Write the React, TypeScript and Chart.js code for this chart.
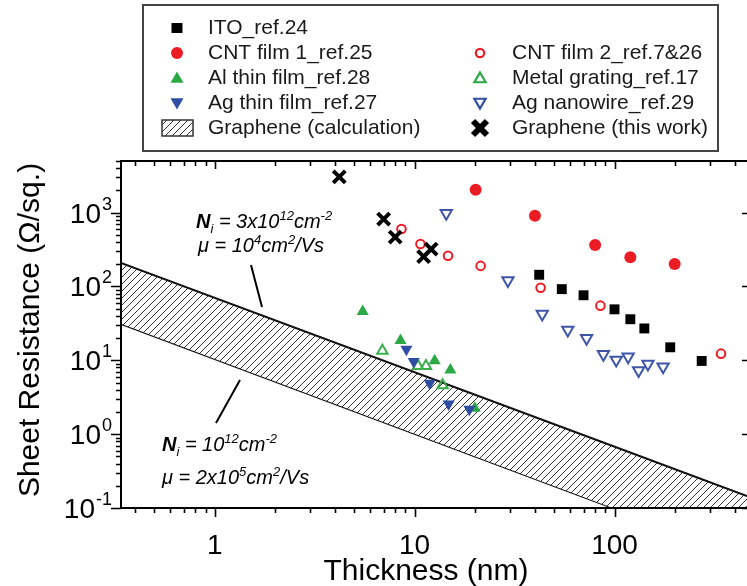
import React, { useEffect, useRef } from 'react';
import { Chart, registerables } from 'chart.js';

Chart.register(...registerables);

// ---- data (thickness nm, sheet resistance ohm/sq) ----
const itoX = [42, 54.5, 70, 100, 120, 141, 190, 273];
const itoY = [144, 92, 76, 49, 36, 27, 15, 9.8];
const cnt1X = [20.2, 40, 80, 120, 200];
const cnt1Y = [2040, 905, 363, 249, 202];
const cnt2X = [8.6, 10.7, 14.7, 21.4, 42.7, 85, 341];
const cnt2Y = [600, 375, 260, 190, 96, 55, 12.3];
const alX = [5.5, 8.5, 12.6, 15.1, 20];
const alY = [45.7, 18.5, 9.9, 7.4, 2.24];
const gratingX = [6.9, 10.4, 11.4, 13.8];
const gratingY = [13.5, 8.4, 8.4, 4.6];
const agFilmX = [9.1, 9.9, 11.9, 14.8, 18.8];
const agFilmY = [14.1, 9.6, 4.9, 2.57, 2.17];
const agWireX = [14.4, 29.3, 43.5, 58.4, 72.5, 88, 102, 117, 132, 147, 175];
const agWireY = [984, 120, 42.5, 25.8, 19.9, 12.1, 10.1, 11.2, 7.3, 8.9, 8.2];
const grapheneX = [4.2, 7.0, 8.0, 12.1, 11.1];
const grapheneY = [3050, 817, 466, 320, 254];
const calcX = [0.34, 98, 460];
const calcUpperY = [208, 0.69, 0.145];
const calcLowerY = [31.2, 0.1, 0.1];

// ---- axes ----
const xMin = 0.34;
const xMax = 460;
const yMin = 0.1;
const yMax = 5000;
const xMajorTicks = [1, 10, 100];
const xTickLabels = ['1', '10', '100'];
const yMajorTicks = [0.1, 1, 10, 100, 1000];
const yTickExponents = ['-1', '0', '1', '2', '3'];
const xTitle = 'Thickness (nm)';
const yTitle = 'Sheet Resistance (\u03A9/sq.)';

const legendLabels = {
  ito: 'ITO_ref.24',
  cnt1: 'CNT film 1_ref.25',
  cnt2: 'CNT film 2_ref.7&26',
  al: 'Al thin film_ref.28',
  grating: 'Metal grating_ref.17',
  agFilm: 'Ag thin film_ref.27',
  agWire: 'Ag nanowire_ref.29',
  calc: 'Graphene (calculation)',
  graphene: 'Graphene (this work)',
};

const RED = '#ec1c24';
const GREEN = '#2ca844';
const BLUE = '#2e4da3';
const FONT = '"Liberation Sans", Arial, sans-serif';

const zip = (xs: number[], ys: number[]) => xs.map((x, i) => ({ x, y: ys[i] }));

function makeHatch(): CanvasPattern | string {
  const c = document.createElement('canvas');
  const s = 7;
  c.width = s;
  c.height = s;
  const g = c.getContext('2d');
  if (!g) return '#ccc';
  g.fillStyle = '#fff';
  g.fillRect(0, 0, s, s);
  g.strokeStyle = '#333';
  g.lineWidth = 1;
  g.beginPath();
  g.moveTo(-1, s + 1);
  g.lineTo(s + 1, -1);
  g.moveTo(-1, 1);
  g.lineTo(1, -1);
  g.moveTo(s - 1, s + 1);
  g.lineTo(s + 1, s - 1);
  g.stroke();
  const p = g.createPattern(c, 'repeat');
  return p || '#ccc';
}

type Run = { t: string; f: string; dy?: number };
function drawRuns(ctx: CanvasRenderingContext2D, runs: Run[], x: number, y: number) {
  let cx = x;
  for (const r of runs) {
    ctx.font = r.f;
    ctx.fillText(r.t, cx, y + (r.dy || 0));
    cx += ctx.measureText(r.t).width;
  }
}

function tri(ctx: CanvasRenderingContext2D, x: number, y: number, r: number, down: boolean) {
  const d = down ? -1 : 1;
  ctx.beginPath();
  ctx.moveTo(x, y - d * r);
  ctx.lineTo(x + r * 0.866, y + d * r * 0.5);
  ctx.lineTo(x - r * 0.866, y + d * r * 0.5);
  ctx.closePath();
}

export default function App() {
  const ref = useRef<HTMLCanvasElement>(null);

  useEffect(() => {
    if (!ref.current) return;
    const hatch = makeHatch();

    const decor = {
      id: 'decor',
      beforeDraw(chart: any) {
        const ctx = chart.ctx;
        ctx.save();
        ctx.fillStyle = '#fff';
        ctx.fillRect(0, 0, chart.width, chart.height);
        ctx.restore();
      },
      afterDraw(chart: any) {
        const ctx: CanvasRenderingContext2D = chart.ctx;
        const xs = chart.scales.x;
        const ys = chart.scales.y;
        const a = chart.chartArea;
        ctx.save();
        ctx.strokeStyle = '#000';
        ctx.fillStyle = '#000';

        // axis lines
        ctx.lineWidth = 2;
        ctx.beginPath();
        ctx.moveTo(a.left, a.top);
        ctx.lineTo(a.right, a.top);
        ctx.moveTo(a.left, a.top - 1);
        ctx.lineTo(a.left, a.bottom + 1);
        ctx.moveTo(a.left, a.bottom);
        ctx.lineTo(a.right, a.bottom);
        ctx.stroke();

        // x ticks
        ctx.lineWidth = 1.6;
        ctx.beginPath();
        for (const d of [0.1, 1, 10, 100]) {
          for (let m = 1; m <= 9; m++) {
            const v = d * m;
            if (v < xMin || v > xMax) continue;
            const px = Math.round(xs.getPixelForValue(v)) + 0.5;
            const major = m === 1;
            ctx.moveTo(px, a.bottom);
            ctx.lineTo(px, a.bottom + (major ? 9 : 5));
            ctx.moveTo(px, a.top);
            ctx.lineTo(px, a.top + (major ? 8 : 5));
          }
        }
        // y ticks
        for (const d of [0.1, 1, 10, 100, 1000]) {
          for (let m = 1; m <= 9; m++) {
            const v = d * m;
            if (v < yMin || v > yMax) continue;
            const py = Math.round(ys.getPixelForValue(v)) + 0.5;
            const major = m === 1;
            ctx.moveTo(a.left, py);
            ctx.lineTo(a.left - (major ? 10 : 5), py);
            if (major) {
              ctx.moveTo(a.right - 5, py);
              ctx.lineTo(a.right, py);
            }
          }
        }
        ctx.stroke();

        // x tick labels
        ctx.font = `28px ${FONT}`;
        ctx.textAlign = 'center';
        ctx.textBaseline = 'alphabetic';
        xMajorTicks.forEach((v, i) => {
          ctx.fillText(xTickLabels[i], xs.getPixelForValue(v), 554);
        });

        // y tick labels
        ctx.textAlign = 'left';
        yMajorTicks.forEach((v, i) => {
          const py = ys.getPixelForValue(v);
          ctx.font = `28px ${FONT}`;
          const w1 = ctx.measureText('10').width;
          ctx.font = `18px ${FONT}`;
          const w2 = ctx.measureText(yTickExponents[i]).width;
          const x0 = 112 - w2 - w1 - 1;
          ctx.font = `28px ${FONT}`;
          ctx.fillText('10', x0, py + 10);
          ctx.font = `18px ${FONT}`;
          ctx.fillText(yTickExponents[i], x0 + w1 + 1, py - 3);
        });

        // titles
        ctx.font = `30px ${FONT}`;
        ctx.textAlign = 'center';
        ctx.fillText(xTitle, 426, 580);
        ctx.save();
        ctx.translate(39, 330);
        ctx.rotate(-Math.PI / 2);
        ctx.fillText(yTitle, 0, 0);
        ctx.restore();

        // annotations
        ctx.textAlign = 'left';
        const it = `italic 20px ${FONT}`;
        const bi = `bold italic 20px ${FONT}`;
        const sm = `italic 13px ${FONT}`;
        drawRuns(ctx, [
          { t: 'N', f: bi }, { t: 'i', f: sm, dy: 5 }, { t: ' = 3x10', f: it },
          { t: '12', f: sm, dy: -8 }, { t: 'cm', f: it }, { t: '-2', f: sm, dy: -8 },
        ], 196, 228);
        drawRuns(ctx, [
          { t: '\u03BC = 10', f: it }, { t: '4', f: sm, dy: -8 }, { t: 'cm', f: it },
          { t: '2', f: sm, dy: -8 }, { t: '/Vs', f: it },
        ], 198, 252);
        drawRuns(ctx, [
          { t: 'N', f: bi }, { t: 'i', f: sm, dy: 5 }, { t: ' = 10', f: it },
          { t: '12', f: sm, dy: -8 }, { t: 'cm', f: it }, { t: '-2', f: sm, dy: -8 },
        ], 162, 451);
        drawRuns(ctx, [
          { t: '\u03BC = 2x10', f: it }, { t: '5', f: sm, dy: -8 }, { t: 'cm', f: it },
          { t: '2', f: sm, dy: -8 }, { t: '/Vs', f: it },
        ], 162, 484);

        ctx.lineWidth = 2;
        ctx.beginPath();
        ctx.moveTo(251, 265);
        ctx.lineTo(262, 307);
        ctx.moveTo(216, 423);
        ctx.lineTo(240, 380);
        ctx.stroke();

        // legend
        ctx.lineWidth = 2;
        ctx.strokeStyle = '#444';
        ctx.strokeRect(143, 5, 575, 146);
        ctx.font = `21px ${FONT}`;
        ctx.textBaseline = 'middle';
        ctx.fillStyle = '#1a1a1a';
        const c1m = 177, c1t = 208, c2m = 480, c2t = 512;
        const rows = [28, 53, 78, 103, 128];
        ctx.fillText(legendLabels.ito, c1t, rows[0]);
        ctx.fillText(legendLabels.cnt1, c1t, rows[1]);
        ctx.fillText(legendLabels.al, c1t, rows[2]);
        ctx.fillText(legendLabels.agFilm, c1t, rows[3]);
        ctx.fillText(legendLabels.calc, c1t, rows[4]);
        ctx.fillText(legendLabels.cnt2, c2t, rows[1]);
        ctx.fillText(legendLabels.grating, c2t, rows[2]);
        ctx.fillText(legendLabels.agWire, c2t, rows[3]);
        ctx.fillText(legendLabels.graphene, c2t, rows[4]);

        // legend markers
        ctx.fillStyle = '#000';
        ctx.fillRect(c1m - 5.5, rows[0] - 5, 11, 10);
        ctx.fillStyle = RED;
        ctx.beginPath();
        ctx.arc(c1m, rows[1], 6, 0, Math.PI * 2);
        ctx.fill();
        ctx.fillStyle = GREEN;
        tri(ctx, c1m, rows[2] + 1, 7.5, false);
        ctx.fill();
        ctx.fillStyle = BLUE;
        tri(ctx, c1m, rows[3] - 1, 7.5, true);
        ctx.fill();
        ctx.fillStyle = hatch as any;
        ctx.fillRect(162, rows[4] - 8, 31, 16);
        ctx.strokeStyle = '#333';
        ctx.lineWidth = 1.5;
        ctx.strokeRect(162, rows[4] - 8, 31, 16);

        ctx.lineWidth = 2.2;
        ctx.strokeStyle = RED;
        ctx.beginPath();
        ctx.arc(c2m, rows[1], 4.2, 0, Math.PI * 2);
        ctx.stroke();
        ctx.strokeStyle = GREEN;
        tri(ctx, c2m, rows[2] + 1, 6.5, false);
        ctx.stroke();
        ctx.strokeStyle = BLUE;
        tri(ctx, c2m, rows[3] - 1, 6.5, true);
        ctx.stroke();
        ctx.strokeStyle = '#000';
        ctx.lineWidth = 6;
        ctx.beginPath();
        ctx.moveTo(c2m - 7, rows[4] - 7);
        ctx.lineTo(c2m + 7, rows[4] + 7);
        ctx.moveTo(c2m + 7, rows[4] - 7);
        ctx.lineTo(c2m - 7, rows[4] + 7);
        ctx.stroke();

        ctx.restore();
      },
    };

    const chart = new Chart(ref.current, {
      type: 'scatter',
      data: {
        datasets: [
          {
            label: legendLabels.graphene, data: zip(grapheneX, grapheneY),
            pointStyle: 'crossRot', pointRadius: 8.5, borderColor: '#000', borderWidth: 4,
            backgroundColor: '#000',
          },
          {
            label: legendLabels.ito, data: zip(itoX, itoY),
            pointStyle: 'rect', pointRadius: 7, backgroundColor: '#000', borderColor: '#000', borderWidth: 0,
          },
          {
            label: legendLabels.cnt1, data: zip(cnt1X, cnt1Y),
            pointStyle: 'circle', pointRadius: 6, backgroundColor: RED, borderColor: RED, borderWidth: 0,
          },
          {
            label: legendLabels.cnt2, data: zip(cnt2X, cnt2Y),
            pointStyle: 'circle', pointRadius: 4.3, backgroundColor: '#fff', borderColor: RED, borderWidth: 2,
          },
          {
            label: legendLabels.agFilm, data: zip(agFilmX, agFilmY),
            pointStyle: 'triangle', rotation: 180, pointRadius: 7, backgroundColor: BLUE, borderColor: BLUE, borderWidth: 0,
          },
          {
            label: legendLabels.al, data: zip(alX, alY),
            pointStyle: 'triangle', pointRadius: 7, backgroundColor: GREEN, borderColor: GREEN, borderWidth: 0,
          },
          {
            label: legendLabels.grating, data: zip(gratingX, gratingY),
            pointStyle: 'triangle', pointRadius: 6, backgroundColor: 'rgba(255,255,255,0)', borderColor: '#3aae4c', borderWidth: 2,
          },
          {
            label: legendLabels.agWire, data: zip(agWireX, agWireY),
            pointStyle: 'triangle', rotation: 180, pointRadius: 6.5, backgroundColor: '#fff', borderColor: '#3f56a8', borderWidth: 2,
          },
          {
            type: 'line', label: 'upper', data: zip(calcX, calcUpperY),
            showLine: true, pointRadius: 0, borderColor: '#111', borderWidth: 2,
            backgroundColor: hatch as any, fill: '+1', tension: 0,
          } as any,
          {
            type: 'line', label: 'lower', data: zip(calcX, calcLowerY),
            showLine: true, pointRadius: 0, borderColor: '#111', borderWidth: 2, fill: false, tension: 0,
          } as any,
        ],
      },
      options: {
        animation: false,
        responsive: false,
        devicePixelRatio: 1,
        events: [],
        layout: { autoPadding: false, padding: { left: 121, top: 161, right: 0, bottom: 78 } },
        plugins: { legend: { display: false }, tooltip: { enabled: false } },
        scales: {
          x: { type: 'logarithmic', bounds: 'data', min: xMin, max: xMax, display: false },
          y: { type: 'logarithmic', bounds: 'data', min: yMin, max: yMax, display: false },
        },
      },
      plugins: [decor],
    });
    return () => chart.destroy();
  }, []);

  return (
    <div style={{ position: 'absolute', left: 0, top: 0, width: 747, height: 586, overflow: 'hidden', background: '#fff' }}>
      <canvas ref={ref} width={747} height={586} style={{ display: 'block', width: 747, height: 586 }} />
    </div>
  );
}
